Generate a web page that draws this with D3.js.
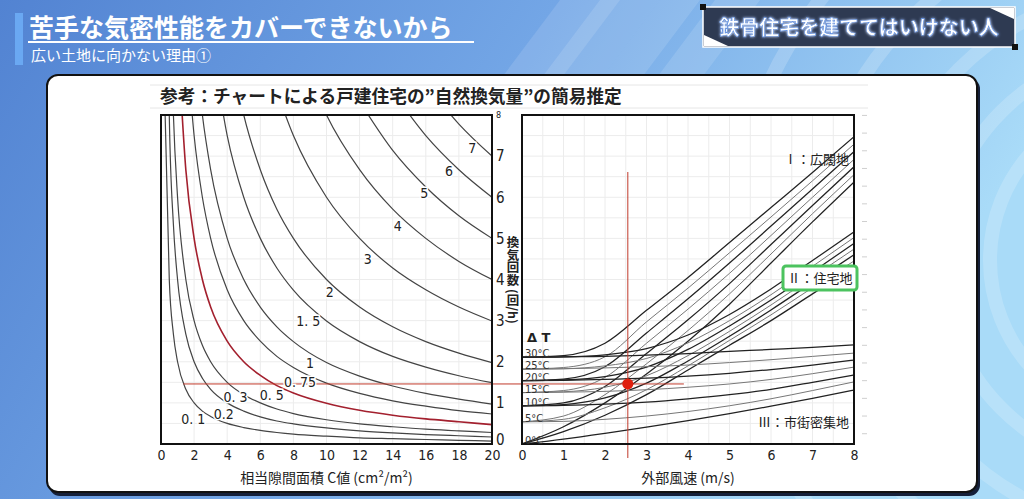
<!DOCTYPE html>
<html><head><meta charset="utf-8">
<script src="https://cdn.jsdelivr.net/npm/d3@7"></script>
<style>
html,body{margin:0;padding:0;width:1024px;height:499px;overflow:hidden;}
svg{display:block;}
</style></head>
<body>
<svg id="c" width="1024" height="499"></svg>
<script>
// ---------- DATA ----------
const leftGridC = [0.25,0.5,0.75,1,1.5,2,2.5,3,4,5,6,7,8,10,12,14,16,18,20];
const leftLabels = ["0. 1","0.2","0. 3","0. 5","0. 75","1","1. 5","2","3","4","5","6","7"];
const leftCurves = [
 [8,4,2.67,2,1.33,1,0.8,0.67,0.5,0.4,0.33,0.28,0.24,0.19,0.15,0.13,0.11,0.09,0.07],
 [16,8,5.33,4,2.67,2,1.6,1.33,1,0.8,0.66,0.56,0.49,0.39,0.32,0.27,0.23,0.2,0.17],
 [null,12,8,6,4,3,2.4,2,1.5,1.2,1,0.85,0.74,0.59,0.49,0.42,0.36,0.32,0.28],
 [null,null,null,10,6.67,5,4,3.33,2.5,2,1.67,1.42,1.24,0.99,0.82,0.7,0.61,0.54,0.47],
 [null,null,null,null,10,7.5,6,5,3.75,3,2.5,2.13,1.86,1.48,1.23,1.05,0.92,0.81,0.73],
 [null,null,null,null,null,10,8,6.67,5,4,3.33,2.85,2.49,1.98,1.65,1.41,1.23,1.09,0.97],
 [null,null,null,null,null,null,null,10,7.5,6,5,4.28,3.74,2.99,2.49,2.13,1.87,1.66,1.49],
 [null,null,null,null,null,null,null,null,10,8,6.67,5.71,5,4,3.33,2.85,2.49,2.21,1.98],
 [null,null,null,null,null,null,null,null,null,null,null,8.57,7.5,6,5,4.28,3.75,3.33,2.99],
 [null,null,null,null,null,null,null,null,null,null,null,null,10,8,6.67,5.71,5,4.44,4],
 [null,null,null,null,null,null,null,null,null,null,null,null,null,null,8.33,7.14,6.25,5.55,5],
 [null,null,null,null,null,null,null,null,null,null,null,null,null,null,null,8.57,7.5,6.67,6],
 [null,null,null,null,null,null,null,null,null,null,null,null,null,null,null,null,8.75,7.78,7]
];
const leftLabelPos = [[1.95,0.6],[3.8,0.72],[4.5,1.15],[6.7,1.2],[8.4,1.5],[9,1.98],[8.9,3],[10.2,3.69],[12.5,4.5],[14.3,5.3],[15.9,6.1],[17.4,6.65],[18.8,7.2]];
const leftXTicks = [0,2,4,6,8,10,12,14,16,18,20];
const yTicks = [0,1,2,3,4,5,6,7,8];

const windSpeeds = [0,1,2,3,4,5,6,7,8];
const deltaT = ["0°C","5°C","10°C","15°C","20°C","25°C","30°C"];
const famI = [
 [0,0.42,1.0,1.7,2.5,3.4,4.4,5.4,6.37],
 [0.54,0.68,1.2,1.95,2.76,3.65,4.62,5.6,6.55],
 [0.93,1.0,1.4,2.2,3.02,3.9,4.85,5.8,6.74],
 [1.25,1.3,1.62,2.45,3.28,4.15,5.07,6.0,6.92],
 [1.54,1.58,1.88,2.7,3.53,4.4,5.3,6.2,7.11],
 [1.82,1.86,2.12,2.97,3.79,4.65,5.52,6.4,7.29],
 [2.11,2.15,2.45,3.25,4.05,4.9,5.75,6.6,7.47]
];
const famII = [
 [0,0.3,0.7,1.2,1.8,2.4,3.0,3.65,4.3],
 [0.54,0.6,0.88,1.32,1.9,2.52,3.14,3.8,4.45],
 [0.93,0.96,1.12,1.48,2.02,2.62,3.26,3.93,4.6],
 [1.25,1.27,1.38,1.66,2.15,2.74,3.38,4.06,4.74],
 [1.54,1.56,1.64,1.87,2.3,2.87,3.5,4.18,4.88],
 [1.82,1.83,1.9,2.08,2.46,3.0,3.63,4.32,5.02],
 [2.11,2.12,2.17,2.32,2.65,3.15,3.77,4.46,5.16]
];
const famIII = [
 [0,0.12,0.26,0.41,0.57,0.74,0.92,1.11,1.31],
 [0.54,0.55,0.6,0.68,0.79,0.93,1.1,1.3,1.51],
 [0.93,0.94,0.97,1.02,1.1,1.2,1.33,1.5,1.68],
 [1.25,1.26,1.28,1.32,1.38,1.46,1.57,1.71,1.87],
 [1.54,1.55,1.57,1.6,1.65,1.72,1.81,1.92,2.04],
 [1.82,1.83,1.85,1.88,1.92,1.98,2.05,2.13,2.21],
 [2.11,2.12,2.13,2.16,2.2,2.25,2.3,2.35,2.41]
];
const rightXTicks = [0,1,2,3,4,5,6,7,8];
const marker = {wind:2.55, n:1.46, cStart:1.35, windEnd:3.9};

// ---------- DRAW ----------
const svg = d3.select("#c");
const defs = svg.append("defs");
const bg = defs.append("linearGradient").attr("id","bg").attr("x1","0").attr("x2","1").attr("y1","0").attr("y2","0.3");
bg.append("stop").attr("offset","0").attr("stop-color","#5283d2");
bg.append("stop").attr("offset","0.5").attr("stop-color","#73a6e6");
bg.append("stop").attr("offset","1").attr("stop-color","#a9dbf8");
svg.append("rect").attr("width",1024).attr("height",499).attr("fill","url(#bg)");
[[500,560],[540,600],[600,640],[655,700]].forEach(([a,b])=>{
  svg.append("polygon").attr("points",`${a},80 ${a+60},0 ${b+60},0 ${b},80`).attr("fill","#fff").attr("opacity",0.12);
});
[120,170,230,300,380].forEach(r=>{
  svg.append("circle").attr("cx",1150).attr("cy",260).attr("r",r+40).attr("fill","none").attr("stroke","#fff").attr("stroke-width",14).attr("opacity",0.18);
});

// title
svg.append("rect").attr("x",15).attr("y",13).attr("width",8).attr("height",52).attr("fill","#6aa8f2");
svg.append("text").attr("x",29).attr("y",37).text("苦手な気密性能をカバーできないから")
  .attr("font-family","Noto Sans CJK JP").attr("font-weight","700").attr("font-size",25).attr("fill","#fff");
svg.append("line").attr("x1",28).attr("x2",474).attr("y1",42).attr("y2",42).attr("stroke","#fff").attr("stroke-width",2);
svg.append("text").attr("x",31).attr("y",61).text("広い土地に向かない理由①")
  .attr("font-family","Noto Sans CJK JP").attr("font-size",15).attr("fill","#fff");

// badge
const bx=703, by=7, bw=312, bh=40;
svg.append("rect").attr("x",bx).attr("y",by).attr("width",bw).attr("height",bh).attr("fill","#2e3a52").attr("stroke","#fff").attr("stroke-width",1.5);
svg.append("polygon").attr("points",`${bx+bw-25},${by+1} ${bx+bw-1},${by+1} ${bx+bw-1},${by+12}`).attr("fill","#fff");
svg.append("polygon").attr("points",`${bx+1},${by+bh-12} ${bx+1},${by+bh-1} ${bx+25},${by+bh-1}`).attr("fill","#fff");
svg.append("rect").attr("x",bx-3).attr("y",by-3).attr("width",6).attr("height",6).attr("fill","#111");
svg.append("rect").attr("x",bx+bw-3).attr("y",by+bh-3).attr("width",6).attr("height",6).attr("fill","#111");
const glow = defs.append("filter").attr("id","glow");
glow.append("feGaussianBlur").attr("stdDeviation",1.5).attr("result","b");
const fm = glow.append("feMerge"); fm.append("feMergeNode").attr("in","b"); fm.append("feMergeNode").attr("in","SourceGraphic");
svg.append("text").attr("x",bx+bw/2).attr("y",by+28).attr("text-anchor","middle").text("鉄骨住宅を建ててはいけない人")
  .attr("font-family","Noto Sans CJK JP").attr("font-weight","700").attr("font-size",20).attr("fill","#fff")
  .attr("stroke","#5b8de0").attr("stroke-width",0.6).attr("filter","url(#glow)");

// card
svg.append("rect").attr("x",49).attr("y",78).attr("width",931).attr("height",418).attr("rx",11).attr("fill","#15203a");
svg.append("rect").attr("x",47).attr("y",75).attr("width",930).attr("height",417).attr("rx",11).attr("fill","#fff").attr("stroke","#111").attr("stroke-width",2);

// excel-like sheet grid (faint)
const sheet = svg.append("g").attr("stroke","#e6e6e6").attr("stroke-width",1);
[85,108].forEach(yy=>sheet.append("line").attr("x1",150).attr("x2",868).attr("y1",yy).attr("y2",yy));
const xL = d3.scaleLinear().domain([0,20]).range([161,492]);
const y = d3.scaleLinear().domain([0,8]).range([444,115]);
const xR = d3.scaleLinear().domain([0,8]).range([522,854]);

// inner grids
const gridG = svg.append("g").attr("stroke","#ececec").attr("stroke-width",1);
d3.range(0,20.01,2).forEach(v=>gridG.append("line").attr("x1",xL(v)).attr("x2",xL(v)).attr("y1",y(8)).attr("y2",y(0)));
d3.range(0,8.01,0.5).forEach(v=>{gridG.append("line").attr("x1",xL(0)).attr("x2",xL(20)).attr("y1",y(v)).attr("y2",y(v));
  gridG.append("line").attr("x1",xR(0)).attr("x2",xR(8)).attr("y1",y(v)).attr("y2",y(v));});
d3.range(0,8.01,0.5).forEach(v=>gridG.append("line").attr("x1",xR(v)).attr("x2",xR(v)).attr("y1",y(8)).attr("y2",y(0)));
d3.range(0.25,8.01,0.43).forEach(v=>svg.append("line").attr("x1",862).attr("x2",867).attr("y1",y(v)).attr("y2",y(v)).attr("stroke","#cfcfcf"));

// chart title
svg.append("text").attr("x",160).attr("y",103).text("参考：チャートによる戸建住宅の”自然換気量”の簡易推定")
  .attr("font-family","Noto Sans CJK JP").attr("font-weight","700").attr("font-size",17.7).attr("fill","#222");

// clip paths
defs.append("clipPath").attr("id","clipL").append("rect").attr("x",161).attr("y",115).attr("width",331).attr("height",329);
defs.append("clipPath").attr("id","clipR").append("rect").attr("x",522).attr("y",115).attr("width",332).attr("height",329);

// left curves
const lineL = d3.line().defined(d=>d[1]!=null).x(d=>xL(d[0])).y(d=>y(d[1])).curve(d3.curveMonotoneX);
const gL = svg.append("g").attr("clip-path","url(#clipL)");
leftCurves.forEach((arr,i)=>{
  const pts = leftGridC.map((c,j)=>[c,arr[j]]);
  gL.append("path").attr("d",lineL(pts)).attr("fill","none")
    .attr("stroke", leftLabels[i]==="0. 5" ? "#a3202e" : "#444").attr("stroke-width", leftLabels[i]==="0. 5"?1.6:1.2);
});

// right curves (0,10,20,30 dark; 5,15,25 lighter)
const lineR = d3.line().x((d,i)=>xR(windSpeeds[i])).y(d=>y(d)).curve(d3.curveMonotoneX);
const gR = svg.append("g").attr("clip-path","url(#clipR)");
[famI,famII,famIII].forEach(fam=>fam.forEach((arr,k)=>{
  gR.append("path").attr("d",lineR(arr)).attr("fill","none")
    .attr("stroke", k%2===0 ? "#222" : "#777").attr("stroke-width", k%2===0 ? 1.25 : 1);
}));

// red marker lines
svg.append("line").attr("x1",xL(marker.cStart)).attr("x2",xR(marker.windEnd)).attr("y1",y(marker.n)).attr("y2",y(marker.n)).attr("stroke","#c0392b").attr("stroke-width",1);
svg.append("line").attr("x1",xR(marker.wind)).attr("x2",xR(marker.wind)).attr("y1",172).attr("y2",458).attr("stroke","#c0392b").attr("stroke-width",1);

// plot frames
svg.append("rect").attr("x",161).attr("y",115).attr("width",331).attr("height",329).attr("fill","none").attr("stroke","#111").attr("stroke-width",2);
svg.append("rect").attr("x",522).attr("y",115).attr("width",332).attr("height",329).attr("fill","none").attr("stroke","#111").attr("stroke-width",2);

const tickFont = "'Liberation Sans Narrow','DejaVu Sans Condensed',sans-serif";
leftLabels.forEach((t,i)=>{
  svg.append("text").attr("x",xL(leftLabelPos[i][0])).attr("y",y(leftLabelPos[i][1])+5).attr("text-anchor","middle")
    .text(t).attr("font-family",tickFont).attr("font-size",14).attr("fill","#222")
    .attr("stroke","#fff").attr("stroke-width",3).attr("paint-order","stroke");
});

// axes
const axL = svg.append("g").attr("transform","translate(0,444)").call(d3.axisBottom(xL).tickValues(leftXTicks).tickSize(0).tickPadding(6));
const axR = svg.append("g").attr("transform","translate(0,444)").call(d3.axisBottom(xR).tickValues(rightXTicks).tickSize(0).tickPadding(6));
const axY = svg.append("g").attr("transform","translate(492,0)").call(d3.axisRight(y).tickValues(yTicks).tickSize(0).tickPadding(4));
[axL,axR,axY].forEach(a=>{a.select(".domain").remove(); a.selectAll("text").attr("font-family",tickFont).attr("font-size",14).attr("fill","#222");});
axY.selectAll("text").attr("font-size",15);
axY.selectAll(".tick").filter(d=>d===0).select("text").attr("dy","0.05em");
axY.selectAll(".tick").filter(d=>d===8).select("text").attr("font-size",9);

// axis titles
svg.append("text").attr("x",xL(10)).attr("y",483).attr("text-anchor","middle").text("相当隙間面積 C値 (cm²/m²)")
  .attr("font-family","Noto Sans CJK JP").attr("font-size",14).attr("fill","#222");
svg.append("text").attr("x",xR(4)).attr("y",483).attr("text-anchor","middle").text("外部風速 (m/s)")
  .attr("font-family","Noto Sans CJK JP").attr("font-size",14).attr("fill","#222");
svg.append("text").attr("x",513).attr("y",280).attr("text-anchor","middle").style("writing-mode","vertical-rl")
  .text("換気回数 (回/h)").attr("font-family","Noto Sans CJK JP").attr("font-weight","700").attr("font-size",12.5).attr("fill","#222");

// delta T labels
svg.append("text").attr("x",527).attr("y",342).text("Δ T").attr("font-family","DejaVu Sans").attr("font-weight","700").attr("font-size",13).attr("fill","#222");
deltaT.forEach((t,i)=>{
  svg.append("text").attr("x",525).attr("y",y(famIII[i][0])).text(t)
    .attr("font-family",tickFont).attr("font-size",11).attr("fill","#333");
});
// region labels
svg.append("text").attr("x",849).attr("y",164).attr("text-anchor","end").text("Ⅰ：広闊地").attr("font-family","Noto Sans CJK JP").attr("font-size",13).attr("fill","#222");
svg.append("rect").attr("x",783).attr("y",266).attr("width",74).attr("height",24).attr("rx",3).attr("fill","#fff").attr("stroke","#4cc35f").attr("stroke-width",3);
svg.append("text").attr("x",820).attr("y",283).attr("text-anchor","middle").text("Ⅱ：住宅地").attr("font-family","Noto Sans CJK JP").attr("font-size",13).attr("fill","#222");
svg.append("text").attr("x",849).attr("y",427).attr("text-anchor","end").text("Ⅲ：市街密集地").attr("font-family","Noto Sans CJK JP").attr("font-size",13).attr("fill","#222");

// red dot
svg.append("circle").attr("cx",xR(marker.wind)).attr("cy",y(marker.n)).attr("r",5.5).attr("fill","#e0200f");
</script>
</body></html>
